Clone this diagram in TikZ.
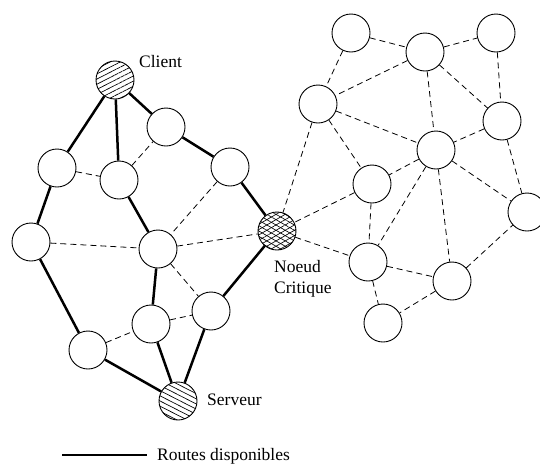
\documentclass[tikz,border=0pt]{standalone}
\usepackage{fontspec}
\setmainfont{Liberation Serif}
\usetikzlibrary{patterns.meta}
\begin{document}
\begin{tikzpicture}[x=1pt,y=-1pt,
  nd/.style={circle,draw,line width=0.9pt,fill=white,minimum size=38pt,inner sep=0pt},
  clientnd/.style={nd,pattern={Lines[angle=27,distance=4.6pt,line width=0.7pt]}},
  servernd/.style={nd,pattern={Lines[angle=-27,distance=4.6pt,line width=0.7pt]}},
  critnd/.style={nd,preaction={fill=white},preaction={pattern={Lines[angle=30,distance=4.6pt,line width=0.65pt]}},pattern={Lines[angle=-30,distance=4.6pt,line width=0.65pt]}},
  route/.style={line width=2.5pt},
  link/.style={line width=0.8pt,dash pattern=on 6pt off 4pt},
  lbl/.style={font=\fontsize{17.5}{21}\selectfont,inner sep=0pt,anchor=base west}]
\useasboundingbox (0,0) rectangle (540,464);
% left cluster
\node[clientnd] (C) at (115,80) {};
\node[nd] (A1) at (166,127) {};
\node[nd] (A2) at (57,168) {};
\node[nd] (A3) at (119,180) {};
\node[nd] (A4) at (230,167) {};
\node[nd] (A5) at (31,242) {};
\node[nd] (A6) at (158,249) {};
\node[critnd] (N) at (277,231) {};
\node[nd] (A7) at (211,311) {};
\node[nd] (A8) at (151,324) {};
\node[nd] (A9) at (88,350) {};
\node[servernd] (S) at (178,401) {};
% right cluster
\node[nd] (B1) at (351,33) {};
\node[nd] (B2) at (425,52) {};
\node[nd] (B3) at (496,33) {};
\node[nd] (B4) at (318,104) {};
\node[nd] (B5) at (502,121) {};
\node[nd] (B6) at (436,150) {};
\node[nd] (B7) at (372,184) {};
\node[nd] (B8) at (527,212) {};
\node[nd] (B9) at (368,262) {};
\node[nd] (B10) at (452,281) {};
\node[nd] (B11) at (383,323) {};
% routes
\foreach \a/\b in {C/A2,C/A3,C/A1,A1/A4,A4/N,A2/A5,A3/A6,A5/A9,A9/S,A6/A8,A8/S,A7/S,A7/N}
  \draw[route] (\a) -- (\b);
% dashed links
\foreach \a/\b in {A2/A3,A3/A1,A4/A6,A5/A6,A6/N,A6/A7,A8/A7,A9/A8,
  B1/B2,B2/B3,B1/B4,B2/B4,B2/B6,B2/B5,B3/B5,B4/B6,B4/B7,B4/N,B5/B6,B5/B8,
  B6/B7,B6/B8,B6/B9,B6/B10,B7/N,B7/B9,N/B9,B9/B10,B9/B11,B10/B11,B10/B8}
  \draw[link] (\a) -- (\b);
% labels
\node[lbl] (lc) at (139,67) {Client};
\node[lbl] (ls) at (207,405) {Serveur};
\node[lbl] (ln1) at (274,272) {Noeud};
\node[lbl] (ln2) at (274,293) {Critique};
% legend
\coordinate (L1) at (62,455);
\coordinate (L2) at (147,455);
\draw[route] (L1) -- (L2);
\node[lbl] (lr) at (157,460) {Routes disponibles};
\end{tikzpicture}
\end{document}
